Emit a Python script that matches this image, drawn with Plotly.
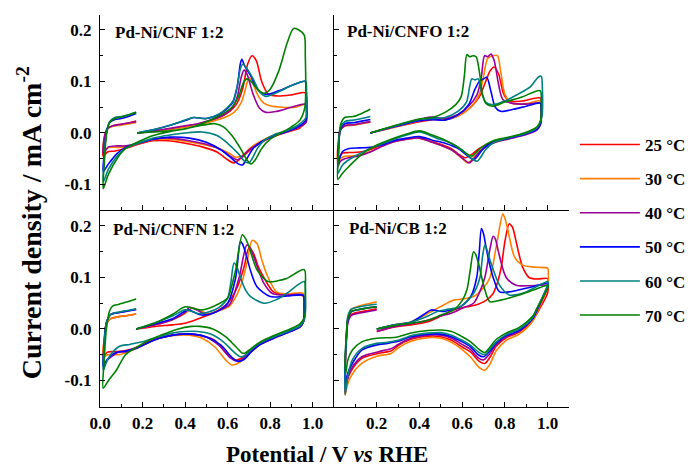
import plotly.graph_objects as go
from plotly.subplots import make_subplots

# ---------------- data ----------------
temperatures = [25, 30, 40, 50, 60, 70]
legend_labels = ["25 °C", "30 °C", "40 °C", "50 °C", "60 °C", "70 °C"]
panel_names = ["Pd-Ni/CNF 1:2", "Pd-Ni/CNFO 1:2", "Pd-Ni/CNFN 1:2", "Pd-Ni/CB 1:2"]

x_ticks_left = [0.0, 0.2, 0.4, 0.6, 0.8, 1.0]
x_ticks_right = [0.2, 0.4, 0.6, 0.8, 1.0]
y_ticks = [-0.1, 0.0, 0.1, 0.2]

# each curve: (potential / V, current density / mA cm-2) along the scan:
# anodic sweep -> cathodic sweep -> hydrogen region segment
CNF = {
    25: [(0.175,0.0),(0.25,0.003),(0.33,0.008),(0.40,0.012),(0.46,0.017),(0.52,0.024),(0.57,0.032),(0.61,0.042),(0.64,0.055),(0.67,0.085),(0.695,0.135),(0.715,0.15),(0.735,0.14),(0.76,0.10),(0.79,0.076),(0.83,0.072),(0.90,0.074),(0.965,0.078),
         (0.97,0.06),(0.968,0.025),(0.94,0.01),(0.88,0.002),(0.82,-0.006),(0.76,-0.018),(0.70,-0.035),(0.66,-0.05),(0.63,-0.058),(0.60,-0.052),(0.55,-0.037),(0.48,-0.027),(0.40,-0.02),(0.32,-0.015),(0.25,-0.015),(0.18,-0.022),(0.12,-0.03),(0.07,-0.035),(0.035,-0.037),(0.015,-0.045),
         (0.022,-0.01),(0.035,0.008),(0.06,0.014),(0.10,0.017),(0.14,0.02),(0.17,0.023)],
    30: [(0.175,0.0),(0.25,0.003),(0.33,0.007),(0.40,0.011),(0.46,0.016),(0.52,0.022),(0.58,0.029),(0.63,0.040),(0.665,0.06),(0.69,0.095),(0.70,0.108),(0.715,0.10),(0.74,0.075),(0.77,0.058),(0.80,0.053),(0.86,0.05),(0.92,0.05),(0.965,0.055),
         (0.97,0.04),(0.968,0.02),(0.93,0.01),(0.88,0.003),(0.82,-0.004),(0.76,-0.015),(0.71,-0.028),(0.67,-0.043),(0.64,-0.047),(0.61,-0.04),(0.56,-0.03),(0.48,-0.022),(0.40,-0.016),(0.32,-0.012),(0.25,-0.013),(0.18,-0.02),(0.12,-0.027),(0.08,-0.028),(0.04,-0.028),(0.015,-0.035),
         (0.022,-0.005),(0.035,0.008),(0.06,0.013),(0.10,0.015),(0.14,0.018),(0.17,0.02)],
    40: [(0.175,0.0),(0.25,0.004),(0.33,0.009),(0.40,0.014),(0.46,0.018),(0.52,0.025),(0.58,0.035),(0.62,0.048),(0.645,0.07),(0.665,0.11),(0.677,0.122),(0.69,0.115),(0.72,0.075),(0.75,0.048),(0.78,0.04),(0.83,0.042),(0.90,0.05),(0.965,0.056),
         (0.97,0.045),(0.968,0.02),(0.93,0.01),(0.88,0.003),(0.82,-0.005),(0.76,-0.017),(0.70,-0.033),(0.665,-0.047),(0.645,-0.052),(0.62,-0.047),(0.57,-0.033),(0.50,-0.022),(0.42,-0.015),(0.33,-0.01),(0.25,-0.012),(0.18,-0.02),(0.12,-0.025),(0.08,-0.025),(0.04,-0.027),(0.015,-0.04),
         (0.022,-0.005),(0.035,0.009),(0.06,0.014),(0.10,0.017),(0.14,0.02),(0.17,0.022)],
    50: [(0.175,0.0),(0.25,0.006),(0.33,0.015),(0.40,0.024),(0.44,0.03),(0.50,0.028),(0.56,0.036),(0.60,0.048),(0.625,0.06),(0.645,0.09),(0.66,0.135),(0.667,0.143),(0.68,0.13),(0.71,0.11),(0.74,0.085),(0.78,0.075),(0.84,0.082),(0.90,0.092),(0.965,0.10),
         (0.97,0.08),(0.968,0.025),(0.93,0.012),(0.88,0.003),(0.82,-0.005),(0.76,-0.017),(0.72,-0.03),(0.69,-0.05),(0.67,-0.062),(0.65,-0.06),(0.62,-0.05),(0.57,-0.033),(0.50,-0.018),(0.42,-0.01),(0.33,-0.008),(0.25,-0.012),(0.18,-0.02),(0.12,-0.028),(0.08,-0.04),(0.04,-0.06),(0.015,-0.075),
         (0.02,-0.04),(0.03,0.0),(0.045,0.02),(0.07,0.026),(0.10,0.028),(0.14,0.033),(0.17,0.038)],
    60: [(0.175,0.0),(0.25,0.006),(0.33,0.015),(0.40,0.025),(0.44,0.03),(0.50,0.028),(0.56,0.037),(0.60,0.05),(0.625,0.062),(0.645,0.09),(0.66,0.125),(0.672,0.134),(0.69,0.125),(0.72,0.105),(0.75,0.08),(0.78,0.071),(0.84,0.08),(0.90,0.092),(0.965,0.10),
         (0.97,0.08),(0.968,0.03),(0.93,0.015),(0.88,0.005),(0.82,-0.003),(0.77,-0.015),(0.74,-0.03),(0.715,-0.05),(0.70,-0.058),(0.68,-0.055),(0.65,-0.04),(0.60,-0.02),(0.55,-0.005),(0.48,0.002),(0.40,0.0),(0.33,-0.004),(0.25,-0.01),(0.18,-0.02),(0.12,-0.03),(0.08,-0.045),(0.04,-0.07),(0.015,-0.095),
         (0.02,-0.05),(0.03,0.0),(0.045,0.022),(0.07,0.03),(0.10,0.032),(0.14,0.036),(0.17,0.04)],
    70: [(0.175,0.0),(0.25,0.002),(0.33,0.004),(0.40,0.008),(0.46,0.015),(0.52,0.025),(0.58,0.038),(0.62,0.05),(0.65,0.07),(0.675,0.098),(0.69,0.105),(0.71,0.1),(0.74,0.085),(0.77,0.077),(0.80,0.085),(0.84,0.12),(0.88,0.175),(0.91,0.203),(0.935,0.2),(0.96,0.19),
         (0.965,0.15),(0.963,0.05),(0.94,0.025),(0.90,0.012),(0.85,0.0),(0.80,-0.012),(0.76,-0.03),(0.73,-0.052),(0.71,-0.06),(0.69,-0.052),(0.66,-0.03),(0.62,-0.005),(0.58,0.012),(0.54,0.018),(0.48,0.015),(0.40,0.008),(0.33,0.003),(0.25,-0.005),(0.18,-0.017),(0.12,-0.03),(0.08,-0.05),(0.04,-0.08),(0.015,-0.108),
         (0.02,-0.06),(0.03,-0.005),(0.045,0.02),(0.07,0.028),(0.10,0.031),(0.14,0.036),(0.17,0.04)],
}

CNFO = {
    25: [(0.17,0.0),(0.28,0.011),(0.40,0.022),(0.46,0.026),(0.52,0.026),(0.58,0.033),(0.64,0.05),(0.68,0.07),(0.71,0.1),(0.73,0.12),(0.75,0.128),(0.77,0.115),(0.795,0.075),(0.82,0.062),(0.88,0.062),(0.965,0.068),
         (0.97,0.05),(0.967,0.02),(0.95,0.008),(0.89,-0.003),(0.82,-0.01),(0.74,-0.018),(0.68,-0.03),(0.64,-0.043),(0.617,-0.048),(0.59,-0.043),(0.555,-0.032),(0.50,-0.022),(0.46,-0.017),(0.40,-0.01),(0.34,-0.012),(0.28,-0.016),(0.22,-0.025),(0.17,-0.032),(0.12,-0.037),(0.07,-0.038),(0.04,-0.039),(0.018,-0.05),
         (0.022,-0.01),(0.03,0.008),(0.05,0.014),(0.09,0.016),(0.13,0.019),(0.17,0.022)],
    30: [(0.17,0.0),(0.28,0.011),(0.40,0.024),(0.46,0.03),(0.52,0.026),(0.58,0.033),(0.64,0.05),(0.68,0.075),(0.70,0.11),(0.72,0.145),(0.745,0.15),(0.765,0.15),(0.78,0.12),(0.80,0.075),(0.83,0.058),(0.90,0.057),(0.965,0.062),
         (0.97,0.045),(0.967,0.018),(0.95,0.006),(0.89,-0.004),(0.82,-0.011),(0.74,-0.02),(0.68,-0.035),(0.645,-0.052),(0.624,-0.058),(0.60,-0.05),(0.555,-0.034),(0.50,-0.024),(0.46,-0.018),(0.40,-0.01),(0.34,-0.012),(0.28,-0.017),(0.22,-0.026),(0.17,-0.036),(0.12,-0.043),(0.08,-0.045),(0.05,-0.045),(0.03,-0.05),(0.018,-0.058),
         (0.022,-0.015),(0.03,0.006),(0.05,0.013),(0.09,0.015),(0.13,0.018),(0.17,0.021)],
    40: [(0.17,0.0),(0.28,0.012),(0.40,0.026),(0.45,0.031),(0.52,0.028),(0.58,0.036),(0.63,0.052),(0.67,0.075),(0.69,0.11),(0.705,0.15),(0.72,0.148),(0.735,0.153),(0.75,0.14),(0.77,0.095),(0.79,0.065),(0.83,0.058),(0.90,0.056),(0.965,0.058),
         (0.97,0.045),(0.967,0.018),(0.95,0.006),(0.89,-0.004),(0.82,-0.011),(0.74,-0.02),(0.685,-0.035),(0.65,-0.052),(0.632,-0.058),(0.605,-0.05),(0.555,-0.034),(0.50,-0.024),(0.46,-0.018),(0.40,-0.01),(0.34,-0.012),(0.28,-0.017),(0.22,-0.027),(0.17,-0.037),(0.12,-0.044),(0.08,-0.047),(0.05,-0.05),(0.03,-0.055),(0.018,-0.065),
         (0.022,-0.02),(0.03,0.005),(0.05,0.014),(0.09,0.016),(0.13,0.019),(0.17,0.022)],
    50: [(0.17,0.0),(0.28,0.012),(0.40,0.024),(0.46,0.026),(0.52,0.025),(0.58,0.035),(0.63,0.055),(0.66,0.085),(0.68,0.1),(0.70,0.105),(0.715,0.108),(0.735,0.08),(0.755,0.05),(0.78,0.042),(0.84,0.046),(0.90,0.052),(0.965,0.058),
         (0.97,0.045),(0.967,0.018),(0.95,0.007),(0.89,-0.003),(0.82,-0.01),(0.74,-0.018),(0.70,-0.03),(0.67,-0.046),(0.655,-0.052),(0.63,-0.046),(0.58,-0.03),(0.52,-0.02),(0.46,-0.014),(0.40,-0.007),(0.34,-0.01),(0.28,-0.015),(0.22,-0.024),(0.17,-0.028),(0.12,-0.029),(0.07,-0.03),(0.04,-0.036),(0.018,-0.058),
         (0.022,-0.02),(0.03,0.008),(0.05,0.018),(0.09,0.02),(0.13,0.023),(0.17,0.026)],
    60: [(0.17,0.0),(0.28,0.013),(0.40,0.026),(0.46,0.028),(0.52,0.03),(0.58,0.042),(0.62,0.06),(0.635,0.09),(0.645,0.105),(0.66,0.103),(0.675,0.105),(0.69,0.08),(0.71,0.06),(0.74,0.055),(0.80,0.062),(0.86,0.075),(0.92,0.09),(0.955,0.108),(0.97,0.11),
         (0.975,0.09),(0.972,0.03),(0.95,0.01),(0.89,-0.002),(0.82,-0.009),(0.75,-0.018),(0.71,-0.032),(0.685,-0.048),(0.67,-0.055),(0.645,-0.05),(0.60,-0.033),(0.55,-0.02),(0.48,-0.01),(0.40,0.002),(0.34,-0.004),(0.28,-0.012),(0.22,-0.022),(0.17,-0.03),(0.12,-0.04),(0.07,-0.052),(0.04,-0.062),(0.018,-0.078),
         (0.022,-0.03),(0.03,0.01),(0.05,0.022),(0.09,0.025),(0.13,0.028),(0.17,0.032)],
    70: [(0.17,0.0),(0.28,0.014),(0.40,0.027),(0.46,0.03),(0.52,0.04),(0.57,0.055),(0.595,0.07),(0.61,0.11),(0.622,0.152),(0.635,0.148),(0.65,0.15),(0.665,0.148),(0.68,0.12),(0.695,0.075),(0.71,0.058),(0.74,0.052),(0.80,0.06),(0.88,0.07),(0.965,0.082),
         (0.97,0.06),(0.967,0.025),(0.95,0.012),(0.89,0.0),(0.82,-0.008),(0.74,-0.016),(0.69,-0.028),(0.66,-0.04),(0.647,-0.045),(0.62,-0.04),(0.58,-0.028),(0.52,-0.014),(0.46,-0.004),(0.40,0.004),(0.34,-0.002),(0.28,-0.01),(0.22,-0.02),(0.17,-0.03),(0.12,-0.045),(0.07,-0.065),(0.04,-0.078),(0.018,-0.09),
         (0.022,-0.04),(0.03,0.015),(0.05,0.03),(0.09,0.032),(0.13,0.038),(0.17,0.046)],
}

CNFN = {
    25: [(0.17,0.0),(0.26,0.005),(0.34,0.008),(0.40,0.011),(0.49,0.024),(0.55,0.035),(0.60,0.05),(0.646,0.082),(0.677,0.12),(0.70,0.157),(0.72,0.148),(0.745,0.12),(0.77,0.10),(0.815,0.072),(0.877,0.066),(0.955,0.064),
         (0.96,0.04),(0.957,0.015),(0.94,0.005),(0.877,-0.006),(0.815,-0.016),(0.754,-0.028),(0.70,-0.045),(0.66,-0.058),(0.635,-0.06),(0.60,-0.05),(0.54,-0.022),(0.48,-0.013),(0.42,-0.01),(0.34,-0.012),(0.26,-0.02),(0.17,-0.036),(0.12,-0.042),(0.07,-0.044),(0.035,-0.045),(0.015,-0.054),
         (0.02,-0.02),(0.03,0.01),(0.05,0.02),(0.09,0.024),(0.13,0.026),(0.17,0.029)],
    30: [(0.17,0.0),(0.26,0.008),(0.34,0.018),(0.40,0.03),(0.43,0.04),(0.46,0.037),(0.51,0.03),(0.57,0.037),(0.61,0.045),(0.66,0.082),(0.69,0.127),(0.715,0.172),(0.738,0.166),(0.76,0.135),(0.785,0.105),(0.83,0.072),(0.88,0.068),(0.955,0.069),
         (0.96,0.045),(0.957,0.015),(0.94,0.004),(0.877,-0.008),(0.815,-0.019),(0.754,-0.03),(0.70,-0.048),(0.655,-0.065),(0.62,-0.07),(0.59,-0.06),(0.54,-0.035),(0.48,-0.018),(0.42,-0.012),(0.34,-0.013),(0.26,-0.02),(0.17,-0.038),(0.12,-0.046),(0.09,-0.05),(0.06,-0.05),(0.035,-0.05),(0.015,-0.055),
         (0.02,-0.02),(0.03,0.01),(0.05,0.02),(0.09,0.024),(0.13,0.026),(0.17,0.029)],
    40: [(0.17,0.0),(0.26,0.008),(0.34,0.018),(0.40,0.032),(0.42,0.042),(0.46,0.036),(0.50,0.028),(0.57,0.038),(0.61,0.048),(0.654,0.10),(0.69,0.163),(0.705,0.158),(0.723,0.14),(0.77,0.089),(0.81,0.069),(0.88,0.066),(0.955,0.066),
         (0.96,0.045),(0.957,0.015),(0.94,0.004),(0.877,-0.008),(0.815,-0.018),(0.754,-0.03),(0.70,-0.047),(0.665,-0.06),(0.64,-0.062),(0.61,-0.055),(0.56,-0.032),(0.50,-0.016),(0.42,-0.01),(0.34,-0.012),(0.26,-0.02),(0.17,-0.038),(0.12,-0.044),(0.08,-0.046),(0.05,-0.055),(0.03,-0.062),(0.015,-0.073),
         (0.02,-0.03),(0.03,0.012),(0.05,0.028),(0.09,0.032),(0.13,0.035),(0.17,0.038)],
    50: [(0.17,0.0),(0.26,0.01),(0.34,0.02),(0.415,0.037),(0.44,0.033),(0.477,0.027),(0.54,0.032),(0.60,0.05),(0.638,0.10),(0.66,0.17),(0.67,0.165),(0.685,0.147),(0.71,0.11),(0.738,0.082),(0.80,0.063),(0.88,0.064),(0.955,0.065),
         (0.96,0.045),(0.957,0.015),(0.94,0.004),(0.877,-0.008),(0.815,-0.018),(0.754,-0.03),(0.71,-0.045),(0.675,-0.06),(0.65,-0.063),(0.62,-0.055),(0.57,-0.032),(0.51,-0.017),(0.44,-0.01),(0.36,-0.011),(0.28,-0.018),(0.22,-0.028),(0.17,-0.037),(0.12,-0.043),(0.08,-0.045),(0.05,-0.052),(0.03,-0.062),(0.015,-0.073),
         (0.02,-0.03),(0.03,0.012),(0.05,0.028),(0.09,0.032),(0.13,0.035),(0.17,0.038)],
    60: [(0.17,0.0),(0.26,0.012),(0.34,0.025),(0.40,0.037),(0.44,0.033),(0.46,0.03),(0.51,0.033),(0.56,0.042),(0.60,0.06),(0.615,0.09),(0.63,0.128),(0.642,0.122),(0.66,0.10),(0.685,0.075),(0.708,0.063),(0.77,0.05),(0.83,0.057),(0.877,0.069),(0.96,0.092),
         (0.965,0.06),(0.962,0.02),(0.94,0.006),(0.877,-0.006),(0.815,-0.016),(0.754,-0.027),(0.71,-0.04),(0.68,-0.052),(0.66,-0.054),(0.63,-0.045),(0.58,-0.025),(0.52,-0.01),(0.46,-0.005),(0.40,-0.005),(0.34,-0.008),(0.26,-0.017),(0.20,-0.025),(0.14,-0.03),(0.09,-0.034),(0.05,-0.05),(0.03,-0.065),(0.015,-0.08),
         (0.02,-0.03),(0.03,0.012),(0.05,0.028),(0.09,0.033),(0.13,0.036),(0.17,0.039)],
    70: [(0.17,0.0),(0.26,0.012),(0.34,0.028),(0.40,0.043),(0.44,0.04),(0.48,0.037),(0.54,0.045),(0.60,0.06),(0.62,0.085),(0.638,0.115),(0.669,0.183),(0.685,0.175),(0.70,0.16),(0.738,0.115),(0.79,0.092),(0.84,0.094),(0.877,0.098),(0.96,0.115),
         (0.965,0.08),(0.962,0.025),(0.94,0.01),(0.877,-0.003),(0.815,-0.013),(0.754,-0.025),(0.71,-0.038),(0.685,-0.046),(0.67,-0.047),(0.64,-0.035),(0.59,-0.015),(0.53,0.0),(0.47,0.005),(0.43,0.005),(0.36,-0.001),(0.30,-0.01),(0.24,-0.02),(0.17,-0.036),(0.12,-0.05),(0.077,-0.08),(0.04,-0.1),(0.015,-0.115),
         (0.02,-0.06),(0.03,0.0),(0.045,0.035),(0.06,0.045),(0.09,0.048),(0.13,0.053),(0.17,0.058)],
}

CB = {
    25: [(0.2,-0.005),(0.285,0.004),(0.36,0.008),(0.44,0.014),(0.50,0.025),(0.56,0.037),(0.62,0.043),(0.668,0.047),(0.71,0.055),(0.745,0.069),(0.765,0.09),(0.783,0.12),(0.80,0.17),(0.82,0.204),(0.835,0.198),(0.855,0.165),(0.883,0.12),(0.913,0.10),(0.95,0.097),(1.0,0.098),
         (1.003,0.09),(1.0,0.07),(0.97,0.045),(0.93,0.017),(0.867,-0.006),(0.806,-0.017),(0.76,-0.033),(0.73,-0.055),(0.706,-0.067),(0.68,-0.063),(0.64,-0.045),(0.60,-0.035),(0.55,-0.022),(0.50,-0.015),(0.44,-0.014),(0.36,-0.02),(0.30,-0.032),(0.27,-0.042),(0.24,-0.045),(0.2,-0.048),(0.13,-0.057),(0.078,-0.083),(0.062,-0.1),(0.052,-0.125),
         (0.052,-0.08),(0.058,-0.02),(0.065,0.015),(0.08,0.028),(0.12,0.033),(0.16,0.036),(0.2,0.039)],
    30: [(0.2,0.0),(0.285,0.008),(0.36,0.014),(0.42,0.026),(0.47,0.037),(0.52,0.048),(0.56,0.056),(0.60,0.058),(0.653,0.063),(0.70,0.08),(0.73,0.10),(0.755,0.15),(0.768,0.18),(0.79,0.223),(0.80,0.215),(0.814,0.192),(0.845,0.14),(0.883,0.124),(0.94,0.12),(1.0,0.118),
         (1.003,0.11),(1.0,0.08),(0.97,0.05),(0.93,0.015),(0.867,-0.01),(0.806,-0.022),(0.76,-0.042),(0.73,-0.068),(0.706,-0.08),(0.68,-0.075),(0.64,-0.055),(0.60,-0.04),(0.55,-0.026),(0.50,-0.018),(0.44,-0.017),(0.36,-0.024),(0.30,-0.037),(0.27,-0.047),(0.24,-0.05),(0.2,-0.053),(0.13,-0.067),(0.078,-0.093),(0.062,-0.11),(0.052,-0.128),
         (0.052,-0.085),(0.058,-0.02),(0.065,0.02),(0.08,0.038),(0.12,0.045),(0.16,0.049),(0.2,0.053)],
    40: [(0.2,-0.005),(0.285,0.005),(0.36,0.01),(0.44,0.017),(0.50,0.025),(0.545,0.03),(0.60,0.04),(0.653,0.05),(0.68,0.07),(0.706,0.10),(0.73,0.155),(0.745,0.18),(0.755,0.175),(0.768,0.153),(0.806,0.10),(0.852,0.085),(0.92,0.084),(1.0,0.085),
         (1.003,0.083),(0.98,0.062),(0.95,0.035),(0.93,0.02),(0.867,-0.004),(0.806,-0.015),(0.76,-0.03),(0.725,-0.05),(0.70,-0.06),(0.675,-0.056),(0.64,-0.04),(0.60,-0.03),(0.55,-0.018),(0.50,-0.012),(0.44,-0.012),(0.36,-0.018),(0.30,-0.03),(0.27,-0.038),(0.24,-0.041),(0.2,-0.045),(0.13,-0.054),(0.08,-0.078),(0.062,-0.098),(0.052,-0.125),
         (0.052,-0.08),(0.058,-0.02),(0.065,0.012),(0.08,0.026),(0.12,0.031),(0.16,0.034),(0.2,0.037)],
    50: [(0.2,0.0),(0.285,0.008),(0.36,0.013),(0.42,0.028),(0.454,0.037),(0.49,0.035),(0.515,0.034),(0.59,0.043),(0.64,0.063),(0.668,0.10),(0.68,0.15),(0.69,0.195),(0.70,0.185),(0.714,0.153),(0.745,0.10),(0.775,0.072),(0.82,0.072),(0.867,0.076),(0.93,0.082),(1.0,0.089),
         (1.003,0.087),(0.98,0.065),(0.95,0.038),(0.93,0.02),(0.867,-0.003),(0.806,-0.013),(0.76,-0.027),(0.725,-0.045),(0.70,-0.054),(0.675,-0.05),(0.64,-0.035),(0.60,-0.025),(0.55,-0.015),(0.50,-0.01),(0.44,-0.01),(0.36,-0.015),(0.30,-0.024),(0.25,-0.028),(0.2,-0.031),(0.13,-0.041),(0.086,-0.067),(0.065,-0.085),(0.052,-0.105),
         (0.052,-0.07),(0.058,-0.015),(0.065,0.02),(0.08,0.033),(0.12,0.038),(0.16,0.041),(0.2,0.043)],
    60: [(0.2,0.0),(0.285,0.008),(0.36,0.013),(0.44,0.025),(0.484,0.034),(0.53,0.038),(0.59,0.043),(0.653,0.069),(0.683,0.10),(0.695,0.14),(0.706,0.163),(0.715,0.155),(0.73,0.134),(0.775,0.085),(0.82,0.066),(0.86,0.067),(0.9,0.072),(1.0,0.092),
         (1.003,0.09),(0.98,0.066),(0.95,0.04),(0.93,0.022),(0.867,0.0),(0.806,-0.011),(0.76,-0.025),(0.725,-0.042),(0.706,-0.05),(0.68,-0.046),(0.64,-0.032),(0.60,-0.022),(0.55,-0.012),(0.50,-0.007),(0.44,-0.008),(0.36,-0.013),(0.30,-0.022),(0.25,-0.026),(0.2,-0.028),(0.13,-0.038),(0.086,-0.06),(0.065,-0.09),(0.052,-0.128),
         (0.052,-0.08),(0.058,-0.015),(0.065,0.025),(0.08,0.038),(0.12,0.043),(0.16,0.046),(0.2,0.048)],
    70: [(0.2,0.0),(0.285,0.007),(0.36,0.011),(0.44,0.017),(0.50,0.027),(0.56,0.037),(0.60,0.055),(0.622,0.076),(0.638,0.115),(0.653,0.15),(0.663,0.145),(0.676,0.128),(0.706,0.076),(0.73,0.053),(0.78,0.056),(0.867,0.066),(0.93,0.075),(1.0,0.085),
         (1.003,0.083),(0.98,0.063),(0.95,0.04),(0.93,0.025),(0.867,0.003),(0.806,-0.008),(0.76,-0.02),(0.725,-0.038),(0.706,-0.046),(0.68,-0.04),(0.64,-0.025),(0.60,-0.015),(0.55,-0.005),(0.50,-0.002),(0.44,-0.003),(0.36,-0.008),(0.29,-0.016),(0.2,-0.018),(0.13,-0.025),(0.086,-0.041),(0.065,-0.06),(0.055,-0.086),
         (0.052,-0.06),(0.058,-0.01),(0.065,0.022),(0.08,0.034),(0.12,0.038),(0.16,0.041),(0.2,0.043)],
}

# ---------------- style ----------------
colors = ["#ff0000", "#ff8000", "#990099", "#0000ff", "#008080", "#008000"]
FONT = "Liberation Serif"

fig = make_subplots(rows=2, cols=2, horizontal_spacing=0, vertical_spacing=0)

panels = [(CNF, 1, 1), (CNFO, 1, 2), (CNFN, 2, 1), (CB, 2, 2)]
for pi, (data, r, c) in enumerate(panels):
    for ti, t in enumerate(temperatures):
        pts = data[t]
        fig.add_trace(go.Scatter(
            x=[p[0] for p in pts], y=[p[1] for p in pts], mode="lines",
            line=dict(color=colors[ti], width=1.6, shape="spline", smoothing=0.8),
            name=legend_labels[ti], legendgroup=str(t), showlegend=(pi == 0),
            hoverinfo="skip"), row=r, col=c)

# the page body adds an 8 px offset; work in page pixels and shift
OFF = 8
W, H = 698 - OFF, 467 - OFF
PX_L, PX_R, PX_T, PX_B = 100, 577, 15, 407          # plot area in page pixels
L, T = PX_L - OFF, PX_T - OFF
R, B = W - (PX_R - OFF), H - (PX_B - OFF)
pw, ph = W - L - R, H - T - B
xsplit = 238 / pw
ysplit = 1 - 195 / ph

tickfont = dict(family=FONT, size=17, color="black", weight="bold")
common_x = dict(range=[0, 1.1], showline=True, linecolor="black", linewidth=1.3,
                ticks="inside", ticklen=5, tickwidth=1.3, tickcolor="black",
                minor=dict(ticks="inside", ticklen=3, tickwidth=1.1, tickcolor="black", dtick=0.1, tick0=0),
                showgrid=False, zeroline=False, tickfont=tickfont)
common_y = dict(showline=True, linecolor="black", linewidth=1.3,
                ticks="inside", ticklen=5, tickwidth=1.3, tickcolor="black",
                tickvals=y_ticks, ticktext=["-0.1", "0.0", "0.1", "0.2"],
                minor=dict(ticks="inside", ticklen=3, tickwidth=1.1, tickcolor="black", dtick=0.05, tick0=0),
                showgrid=False, zeroline=False, tickfont=tickfont, ticklabelstandoff=4)

fig.update_layout(
    xaxis=dict(common_x, domain=[0, xsplit], tickvals=x_ticks_left, showticklabels=False),
    xaxis2=dict(common_x, domain=[xsplit, 1], tickvals=x_ticks_left, showticklabels=False),
    xaxis3=dict(common_x, domain=[0, xsplit], tickvals=x_ticks_left,
                ticktext=["%.1f" % v for v in x_ticks_left], showticklabels=True),
    xaxis4=dict(common_x, domain=[xsplit, 1], tickvals=x_ticks_right,
                ticktext=["%.1f" % v for v in x_ticks_right], showticklabels=True),
    yaxis=dict(common_y, domain=[ysplit, 1], range=[-0.1495, 0.229]),
    yaxis2=dict(common_y, domain=[ysplit, 1], range=[-0.1495, 0.229], showticklabels=False),
    yaxis3=dict(common_y, domain=[0, ysplit], range=[-0.1515, 0.231]),
    yaxis4=dict(common_y, domain=[0, ysplit], range=[-0.1515, 0.231], showticklabels=False),
)

def px_to_paper(px, py):
    return (px - PX_L) / pw, (PX_B - py) / ph

annots = []
label_pos = [(113, 32), (349, 31), (111, 229), (351, 228)]
for name, (lx, ly) in zip(panel_names, label_pos):
    ax_, ay_ = px_to_paper(lx, ly)
    annots.append(dict(text=name, x=ax_, y=ay_, xref="paper", yref="paper",
                       xanchor="left", yanchor="middle", showarrow=False,
                       font=dict(family=FONT, size=17, color="black", weight="bold")))
ax_, ay_ = px_to_paper(331, 455)
annots.append(dict(text="Potential / V <i>vs</i> RHE", x=ax_, y=ay_, xref="paper", yref="paper",
                   xanchor="center", yanchor="middle", showarrow=False,
                   font=dict(family=FONT, size=23, color="black", weight="bold")))
ax_, ay_ = px_to_paper(29, 223)
annots.append(dict(text="Current density / mA cm<sup>-2</sup>", x=ax_, y=ay_, xref="paper", yref="paper",
                   xanchor="center", yanchor="middle", textangle=-90, showarrow=False,
                   font=dict(family=FONT, size=28, color="black", weight="bold")))

lgx, lgy = px_to_paper(583, 127)
fig.update_layout(
    width=W, height=H, margin=dict(l=L, r=R, t=T, b=B),
    paper_bgcolor="white", plot_bgcolor="white",
    annotations=annots,
    legend=dict(x=lgx, y=lgy, xanchor="left", yanchor="top", bgcolor="rgba(0,0,0,0)",
                font=dict(family=FONT, size=17, color="black", weight="bold"),
                tracegroupgap=9, itemwidth=60),
    showlegend=True,
)

fig.write_html("out.html")
